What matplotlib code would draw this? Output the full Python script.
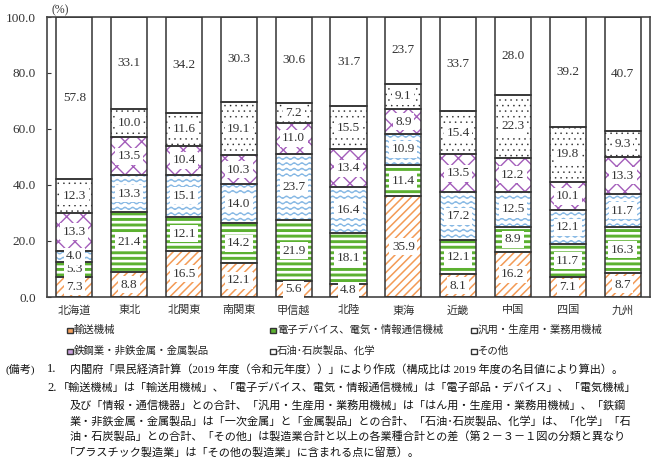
import warnings
import numpy as np
import matplotlib
matplotlib.use("Agg")
import matplotlib.pyplot as plt
from matplotlib.path import Path
from matplotlib.patches import Rectangle
import matplotlib.hatch as mhatch

warnings.filterwarnings("ignore")

# ---------------- data ----------------
regions = ["北海道", "東北", "北関東", "南関東", "甲信越", "北陸",
           "東海", "近畿", "中国", "四国", "九州"]
legend_labels = ["輸送機械", "電子デバイス、電気・情報通信機械", "汎用・生産用・業務用機械",
                 "鉄鋼業・非鉄金属・金属製品", "石油･石炭製品、化学", "その他"]
transport = [7.3, 8.8, 16.5, 12.1, 5.6, 4.8, 35.9, 8.1, 16.2, 7.1, 8.7]
electronic = [5.3, 21.4, 12.1, 14.2, 21.9, 18.1, 11.4, 12.1, 8.9, 11.7, 16.3]
general_mach = [4.0, 13.3, 15.1, 14.0, 23.7, 16.4, 10.9, 17.2, 12.5, 12.1, 11.7]
metals = [13.3, 13.5, 10.4, 10.3, 11.0, 13.4, 8.9, 13.5, 12.2, 10.1, 13.3]
chemicals = [12.3, 10.0, 11.6, 19.1, 7.2, 15.5, 9.1, 15.4, 22.3, 19.8, 9.3]
others = [57.8, 33.1, 34.2, 30.3, 30.6, 31.7, 23.7, 33.7, 28.0, 39.2, 40.7]
series = [transport, electronic, general_mach, metals, chemicals, others]
yticks = [0, 20, 40, 60, 80, 100]


# ---------------- custom hatches ----------------
class WaveHatch(mhatch.HatchPatternBase):
    def __init__(self, hatch, density):
        self.num_rows = int(hatch.count('~') * density)
        self.npts = 121
        self.num_vertices = self.num_rows * self.npts

    def set_vertices_and_codes(self, vertices, codes):
        if not self.num_rows:
            return
        x = np.linspace(0, 1, self.npts)
        periods = max(1, int(round(self.num_rows * 0.7)))
        amp = 0.2 / self.num_rows
        for i in range(self.num_rows):
            y0 = (i + 0.5) / self.num_rows
            s = slice(i * self.npts, (i + 1) * self.npts)
            vertices[s, 0] = x
            vertices[s, 1] = y0 + amp * np.sin(2 * np.pi * periods * x)
            codes[s] = Path.LINETO
            codes[i * self.npts] = Path.MOVETO


class TinyDots(mhatch.Shapes):
    filled = True
    size = 0.2

    def __init__(self, hatch, density):
        self.num_rows = int(hatch.count(':') * density)
        self.shape_vertices = Path.unit_rectangle().vertices - 0.5
        self.shape_codes = Path.unit_rectangle().codes
        super().__init__(hatch, density)


mhatch._hatch_types.append(WaveHatch)
mhatch._hatch_types.append(TinyDots)

styles = [
    dict(color="#F39A55", hatch="////", hlw=1.1),
    dict(color="#5CB131", hatch="---", hlw=2.1),
    dict(color="#86B8E4", hatch="~~~", hlw=0.9),
    dict(color="#A35DBA", hatch="xx", hlw=1.0),
    dict(color="#222222", hatch=":::", hlw=0.2),
    dict(color="#FFFFFF", hatch=None, hlw=0.6),
]
legend_fill = ["#F5A05E", "#5CB131", "#FFFFFF", "#C9A0DC", "#FFFFFF", "#FFFFFF"]

serif = ["Liberation Serif", "Noto Sans CJK JP"]
jp = ["Noto Sans CJK JP", "DejaVu Sans"]
plt.rcParams["font.family"] = jp

W, H = 662, 457
fig = plt.figure(figsize=(W / 100, H / 100), dpi=100)
ax = fig.add_axes([47 / W, 1 - 297 / H, (650 - 47) / W, (297 - 17) / H])

x = np.arange(len(regions))
width = 0.66
bottom = np.zeros(len(regions))
for vals, st in zip(series, styles):
    vals = np.array(vals)
    with plt.rc_context({"hatch.linewidth": st["hlw"]}):
        bars = ax.bar(x, vals, width, bottom=bottom, facecolor="white",
                      edgecolor=st["color"] if st["hatch"] else "white",
                      hatch=st["hatch"], linewidth=0, zorder=2)
        for b in bars:
            if hasattr(b, "set_hatch_linewidth"):
                b.set_hatch_linewidth(st["hlw"])
    ax.bar(x, vals, width, bottom=bottom, fill=False, edgecolor="#333333",
           linewidth=1.1, zorder=3)
    for xi, b0, v in zip(x, bottom, vals):
        ax.text(xi, b0 + v / 2, f"{v:.1f}", ha="center", va="center",
                fontsize=9.5, family=serif, color="#333333", zorder=4,
                bbox=dict(facecolor="white", edgecolor="none", pad=1.8))
    bottom += vals

ax.set_xlim(-0.5, len(regions) - 0.5)
ax.set_ylim(0, 100)
ax.set_yticks(yticks)
ax.set_yticklabels([f"{t:.1f}" for t in yticks], family=serif, fontsize=9.5,
                   color="#333333")
ax.tick_params(axis="y", direction="in", length=3, pad=8, color="#333333")
ax.set_xticks(x)
ax.set_xticklabels(regions, fontsize=8, color="#333333")
ax.tick_params(axis="x", length=0, pad=6)
for sp in ax.spines.values():
    sp.set_color("#444444")
    sp.set_linewidth(1.2)

fig.text(52 / W, 1 - 10 / H, "(%)", fontsize=8.5, family=serif,
         va="center", ha="left", color="#333333")

# legend (manual grid)
leg_pos = [(70, 330), (273, 330), (474, 330), (70, 351), (273, 351), (474, 351)]
for (lx, ly), lab, fc in zip(leg_pos, legend_labels, legend_fill):
    fig.patches.append(Rectangle(((lx - 3) / W, 1 - (ly + 3) / H), 5.5 / W, 5.5 / H,
                                 transform=fig.transFigure, facecolor=fc,
                                 edgecolor="#333333", linewidth=1.0))
    fig.text((lx + 4) / W, 1 - ly / H, lab, fontsize=7.5, va="center",
             ha="left", color="#222222")

# notes
fs = 8.0
def note(px, py, s, size=fs):
    fig.text(px / W, 1 - py / H, s, fontsize=size, va="center", ha="left",
             family=serif, color="#111111")

note(5, 369, "(備考)")
note(47, 369, "1.", 9)
note(70, 369, "内閣府「県民経済計算（2019 年度（令和元年度））」により作成（構成比は 2019 年度の名目値により算出）。")
note(47, 388, "2.", 9)
note(58, 388, "「輸送機械」は「輸送用機械」、「電子デバイス、電気・情報通信機械」は「電子部品・デバイス」、「電気機械」")
note(70, 405, "及び「情報・通信機器」との合計、「汎用・生産用・業務用機械」は「はん用・生産用・業務用機械」、「鉄鋼")
note(70, 421, "業・非鉄金属・金属製品」は「一次金属」と「金属製品」との合計、「石油･石炭製品、化学」は、「化学」「石")
note(70, 437, "油・石炭製品」との合計、「その他」は製造業合計と以上の各業種合計との差（第２－３－１図の分類と異なり")
note(64, 452, "「プラスチック製造業」は「その他の製造業」に含まれる点に留意）。")

fig.savefig("out.png", dpi=100)
